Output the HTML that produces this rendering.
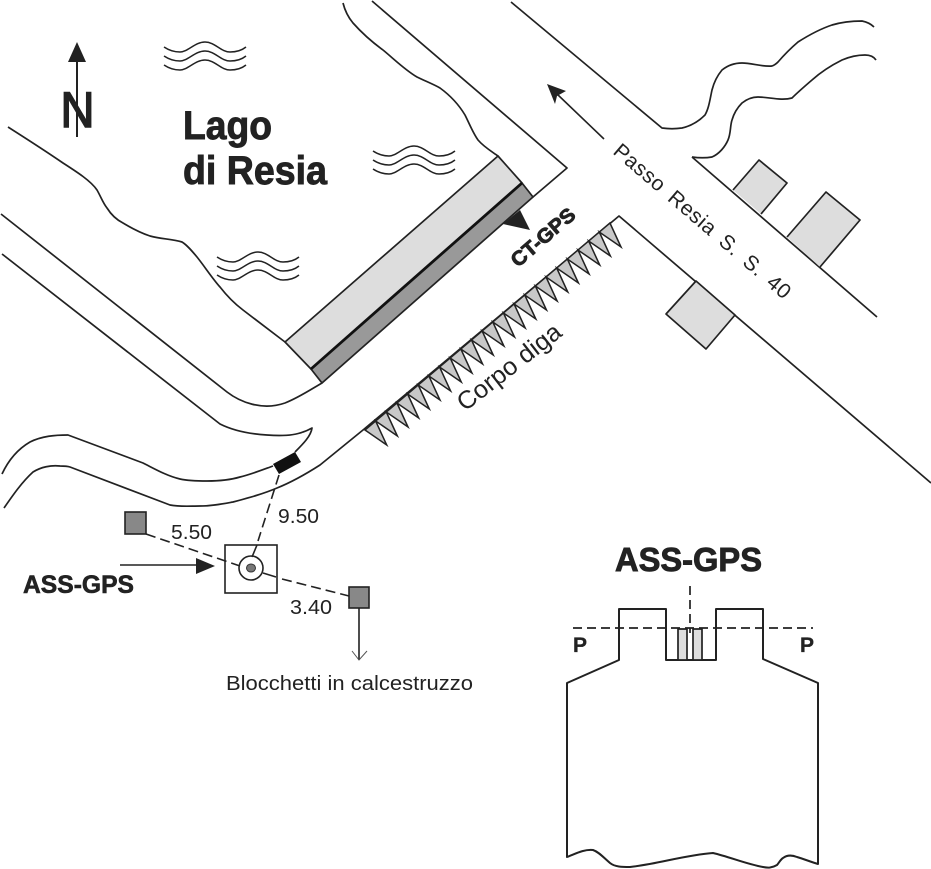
<!DOCTYPE html>
<html><head><meta charset="utf-8"><style>
html,body{margin:0;padding:0;background:#fff;width:931px;height:869px;overflow:hidden}
svg{display:block}
text{font-family:"Liberation Sans",Arial,sans-serif;fill:#222}
.b{font-weight:bold;stroke:#222;stroke-width:.9px}
.s{stroke-width:.6px}
.p{stroke-width:.3px}
.l{fill:none;stroke:#222;stroke-width:1.7;stroke-linejoin:round}
</style></head><body>
<svg width="931" height="869" viewBox="0 0 931 869" xmlns="http://www.w3.org/2000/svg">
<defs><g id="w" fill="none" stroke="#222" stroke-width="1.5">
<path d="M0,0C6,4 11,5 16,5C24,5 31,-5 41,-5C51,-5 57,5 66,5C71,5 77,4 82,0"/>
<path d="M0,9C6,13 11,14 16,14C24,14 31,4 41,4C51,4 57,14 66,14C71,14 77,13 82,9"/>
<path d="M0,18C6,22 11,23 16,23C24,23 31,13 41,13C51,13 57,23 66,23C71,23 77,22 82,18"/>
</g></defs>

<!-- north arrow -->
<path d="M77,137V58" stroke="#222" stroke-width="2"/>
<path d="M77,42L86,62H68Z" fill="#222"/>
<text x="60.500" y="127" font-size="50" textLength="34" lengthAdjust="spacingAndGlyphs" stroke="#222" stroke-width="1.6">N</text>

<use href="#w" transform="translate(164,47)"/>
<use href="#w" transform="translate(373,151)"/>
<use href="#w" transform="translate(217,257)"/>

<text class="b" x="183" y="139" font-size="40" textLength="89" lengthAdjust="spacingAndGlyphs">Lago</text>
<text class="b" x="183" y="184" font-size="40" textLength="144" lengthAdjust="spacingAndGlyphs">di Resia</text>

<!-- shorelines / roads -->
<path class="l" d="M8,127C30,141 47,152 63,163C77,172 91,181 97,190C101,197 103,203 107,208C112,216 117,220 123,223C133,229 141,233 150,236C161,239 172,239 182,242C187,245 192,251 197,257C205,267 212,278 220,287C227,296 235,304 243,310L285,342"/>
<path class="l" d="M343,3C345,11 348,17 353,23C361,32 372,42 383,50C394,59 405,70 417,77C425,81 433,84 440,88C451,96 459,105 465,115C470,125 473,133 478,140C484,147 491,151 498,156"/>
<path class="l" d="M372,1L567,168L533,197"/>
<path class="l" d="M1,214L227,392C240,402 262,411 285,403C298,398 310,390 322,383"/>
<path class="l" d="M2,254L220,424C234,431 250,434 267,435C280,436 293,436 303,432C307,431 310,429 312,428C311,436 303,444 295,452"/>
<path class="l" d="M2,474C9,459 18,449 30,442C42,436 55,435 68,435L143,463C155,469 167,476 180,479C189,481 198,481 207,481C219,481 230,480 240,477C252,474 262,470 273,466"/>
<path class="l" d="M4,508C13,495 22,482 33,472C41,467 51,465 60,466C64,466 67,466 70,467L170,505C180,507 190,506 200,506C212,506 222,504 233,502C248,498 263,494 277,488C292,482 306,474 320,465L363,430L619,216L931,483"/>
<path class="l" d="M511,2L662,128C669,129 675,129 682,128C691,126 699,121 705,115C709,108 710,99 712,90C714,82 717,76 722,70C727,66 734,63 742,63C752,63 762,67 772,66C775,65 776,64 778,62C784,55 791,48 798,42C809,35 820,29 832,25C842,22 852,21 862,21C867,22 871,24 874,27"/>
<path class="l" d="M692,157C699,158 706,158 712,157C719,154 725,147 728,140C731,133 730,126 732,120C734,113 738,107 742,103C747,99 752,97 758,97C769,97 781,101 792,98C798,92 805,86 812,80C822,71 832,65 842,60C849,57 857,55 865,55C870,55 874,57 876,60"/>
<path class="l" d="M692,157L877,317"/>

<!-- buildings -->
<path class="l" style="fill:#ddd" d="M733,190L759,160L787,183L761,214"/>
<path class="l" style="fill:#ddd" d="M787,237L826,192L860,220L820,267"/>
<path class="l" style="fill:#ddd" d="M696,281L735,315L706,349L666,314Z"/>

<!-- dam -->
<path class="l" style="fill:#ddd" d="M285,342L498,156L522,183L311,369Z"/>
<path class="l" style="fill:#999" d="M311,369L522,183L533,197L322,383Z"/>
<path d="M311,369L522,183" stroke="#111" stroke-width="2.8"/>

<!-- dam body teeth -->
<path fill="#c8c8c8" stroke="#222" stroke-width="1.5" stroke-linejoin="miter" stroke-miterlimit="10" d="M365,430l21.7,15l-11.05,-24l21.7,15l-11.05,-24l21.7,15l-11.05,-24l21.7,15l-11.05,-24l21.7,15l-11.05,-24l21.7,15l-11.05,-24l21.7,15l-11.05,-24l21.7,15l-11.05,-24l21.7,15l-11.05,-24l21.7,15l-11.05,-24l21.7,15l-11.05,-24l21.7,15l-11.05,-24l21.7,15l-11.05,-24l21.7,15l-11.05,-24l21.7,15l-11.05,-24l21.7,15l-11.05,-24l21.7,15l-11.05,-24l21.7,15l-11.05,-24l21.7,15l-11.05,-24l21.7,15l-11.05,-24l21.7,15l-11.05,-24l21.7,15l-11.05,-24l21.7,15l-11.05,-24Z"/>

<!-- arrows and road labels -->
<path d="M604,139L557,94" stroke="#222" stroke-width="1.6"/>
<path d="M547,84L566,91L557,96L555,104Z" fill="#222"/>
<path d="M520,210L530,230L503,224Z" fill="#222"/>
<text class="b" font-size="20" textLength="78" lengthAdjust="spacingAndGlyphs" transform="translate(518,268) rotate(-41)">CT-GPS</text>
<text font-size="21" letter-spacing="0.6" word-spacing="4" transform="translate(612,153) rotate(40.6)">Passo Resia S. S. 40</text>
<text font-size="25" textLength="125" lengthAdjust="spacingAndGlyphs" transform="translate(465,412) rotate(-38)">Corpo diga</text>

<!-- GPS site -->
<path d="M273,464L295,452L301,462L279,474Z" fill="#111"/>
<rect x="225" y="545" width="52" height="48" fill="#fff" stroke="#222" stroke-width="1.6"/>
<circle cx="251" cy="568" r="12" fill="#fff" stroke="#222" stroke-width="1.6"/>
<ellipse cx="251" cy="568" rx="4.5" ry="4" fill="#777" stroke="#333"/>
<rect x="125" y="512" width="21" height="22" fill="#888" stroke="#222" stroke-width="1.6"/>
<rect x="349" y="587" width="20" height="21" fill="#888" stroke="#222" stroke-width="1.6"/>
<path d="M146,534L240,566M282,579L349,596M279,475L258,541" fill="none" stroke="#222" stroke-width="1.6" stroke-dasharray="10 5"/>
<path d="M263,573L276,577M257,545L252,557M359,608V660" fill="none" stroke="#222" stroke-width="1.6"/>
<path d="M352,651L359,660L367,651" fill="none" stroke="#555" stroke-width="1"/>
<path d="M120,565H197" stroke="#222" stroke-width="1.6"/>
<path d="M215,566L196,558V574Z" fill="#222"/>
<text class="b s" x="23" y="593" font-size="25" textLength="111" lengthAdjust="spacingAndGlyphs">ASS-GPS</text>
<text x="278" y="523" font-size="20" textLength="41" lengthAdjust="spacingAndGlyphs">9.50</text>
<text x="171" y="539" font-size="20" textLength="41" lengthAdjust="spacingAndGlyphs">5.50</text>
<text x="290" y="614" font-size="20" textLength="42" lengthAdjust="spacingAndGlyphs">3.40</text>
<text x="226" y="690" font-size="20" textLength="247" lengthAdjust="spacingAndGlyphs">Blocchetti in calcestruzzo</text>

<!-- section -->
<text class="b" x="615" y="571" font-size="33" textLength="147" lengthAdjust="spacingAndGlyphs">ASS-GPS</text>
<path class="l" style="stroke-width:2" d="M567,857V683L619,660V609H666V660H716V609H763V659L818,683V864C811,862 804,859 797,857C792,855 787,855 783,858C780,860 779,863 777,865C772,868 768,868 763,867C746,864 730,857 713,853C685,855 658,864 630,867C622,867 615,867 610,863C604,858 599,852 593,850C584,849 575,854 567,857Z"/>
<path d="M678,629H687V660H678ZM693,629H702V660H693Z" fill="#ddd" stroke="#222" stroke-width="1.7"/>
<path d="M573,628H813M690,586V633" fill="none" stroke="#222" stroke-width="1.7" stroke-dasharray="9 5"/>
<text class="b p" x="573" y="652" font-size="21">P</text>
<text class="b p" x="800" y="652" font-size="21">P</text>
</svg>
</body></html>
